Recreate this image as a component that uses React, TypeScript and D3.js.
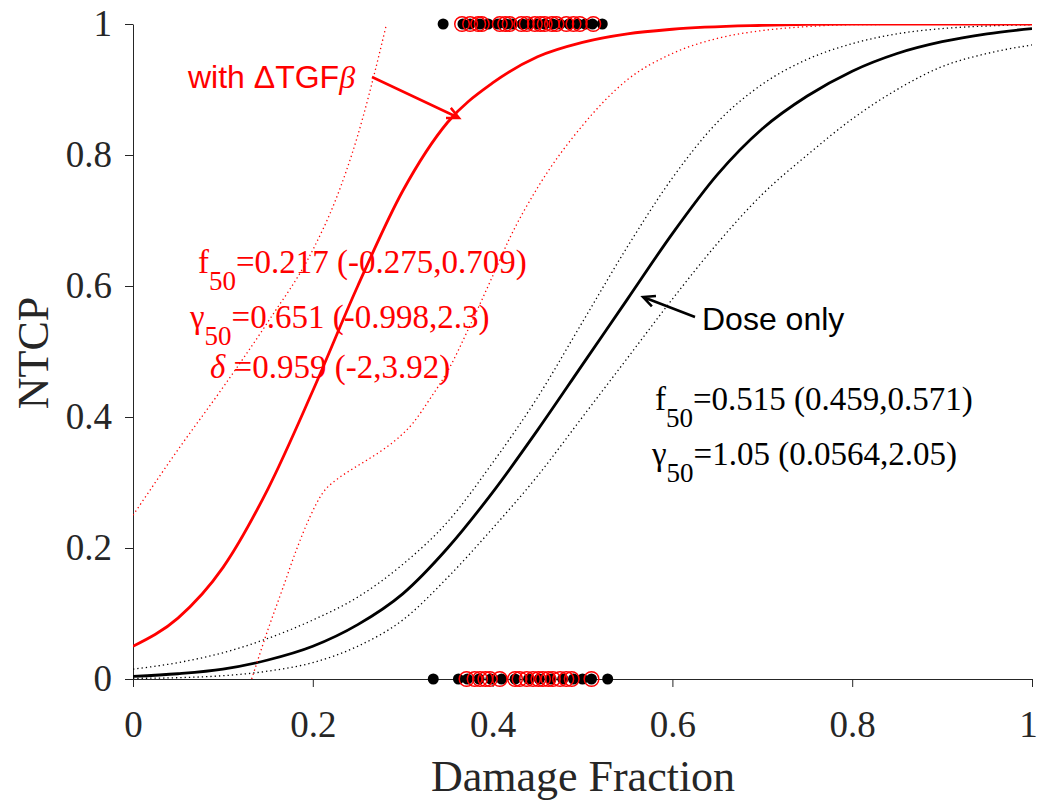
import React, { useEffect, useRef } from "react";
import * as d3 from "d3";

// tick values
const X_TICKS = [0, 0.2, 0.4, 0.6, 0.8, 1];
const Y_TICKS = [0, 0.2, 0.4, 0.6, 0.8, 1];

// dose only fit (black) with its confidence band
const DOSE_X = [0, 0.05, 0.1, 0.15, 0.2, 0.25, 0.3, 0.35, 0.4, 0.45, 0.5, 0.55, 0.6, 0.65, 0.7, 0.75, 0.8, 0.85, 0.9, 0.95, 1];
const DOSE_FIT = [0.004, 0.008, 0.015, 0.029, 0.05, 0.083, 0.13, 0.2, 0.285, 0.38, 0.48, 0.58, 0.68, 0.77, 0.84, 0.89, 0.928, 0.955, 0.973, 0.985, 0.993];
const DOSE_HI = [0.015, 0.025, 0.04, 0.062, 0.09, 0.125, 0.175, 0.24, 0.33, 0.43, 0.545, 0.66, 0.765, 0.85, 0.908, 0.946, 0.97, 0.985, 0.993, 0.997, 0.999];
const DOSE_LO = [0.001, 0.002, 0.005, 0.012, 0.025, 0.05, 0.09, 0.155, 0.23, 0.31, 0.4, 0.49, 0.58, 0.665, 0.74, 0.8, 0.855, 0.9, 0.935, 0.955, 0.968];

// with delta TGF-beta fit (red)
const TGF_X = [0, 0.05, 0.1, 0.15, 0.2, 0.25, 0.3, 0.35, 0.4, 0.45, 0.5, 0.55, 0.6, 0.7, 0.8, 1];
const TGF_FIT = [0.05, 0.093, 0.17, 0.29, 0.44, 0.6, 0.745, 0.85, 0.91, 0.95, 0.972, 0.985, 0.992, 0.998, 1, 1];
const TGF_HI_X = [0, 0.05, 0.1, 0.15, 0.2, 0.225, 0.25, 0.275, 0.282];
const TGF_HI = [0.25, 0.35, 0.445, 0.545, 0.655, 0.73, 0.83, 0.96, 1];
const TGF_LO_X = [0.132, 0.15, 0.167, 0.182, 0.197, 0.211, 0.227, 0.241, 0.26, 0.278, 0.295, 0.311, 0.33, 0.35, 0.375, 0.4, 0.419, 0.45, 0.5, 0.55, 0.6, 0.65, 0.7, 0.75, 0.8, 1];
const TGF_LO = [0, 0.075, 0.14, 0.198, 0.248, 0.284, 0.305, 0.318, 0.334, 0.35, 0.368, 0.39, 0.427, 0.47, 0.54, 0.615, 0.673, 0.75, 0.845, 0.915, 0.955, 0.978, 0.99, 0.996, 0.999, 1];

// observed damage fractions (outcome 1 on top, 0 on bottom)
const TOP_DOSE = [0.345, 0.367, 0.375, 0.386, 0.395, 0.406, 0.415, 0.422, 0.433, 0.44, 0.45, 0.458, 0.467, 0.475, 0.485, 0.495, 0.503, 0.511, 0.522];
const TOP_TGF = [0.366, 0.375, 0.384, 0.388, 0.408, 0.414, 0.419, 0.432, 0.438, 0.447, 0.453, 0.458, 0.466, 0.471, 0.482, 0.49, 0.497, 0.512];
const BOTTOM_DOSE = [0.334, 0.362, 0.372, 0.385, 0.398, 0.41, 0.425, 0.44, 0.452, 0.465, 0.478, 0.49, 0.5, 0.51, 0.528];
const BOTTOM_TGF = [0.371, 0.38, 0.386, 0.392, 0.397, 0.408, 0.425, 0.43, 0.438, 0.445, 0.451, 0.456, 0.462, 0.467, 0.475, 0.482, 0.488, 0.51];

const SERIF = "'Liberation Serif', 'Times New Roman', serif";
const SANS = "'Liberation Sans', Arial, sans-serif";
const AXIS = "#262626";

const App = () => {
  const ref = useRef<SVGSVGElement>(null);

  useEffect(() => {
    const svg = d3.select(ref.current);
    svg.selectAll("*").remove();

    const x = d3.scaleLinear().domain([0, 1]).range([133, 1032]);
    const y = d3.scaleLinear().domain([0, 1]).range([679, 24]);

    svg.append("defs").append("clipPath").attr("id", "plot")
      .append("rect").attr("x", 133).attr("y", 24).attr("width", 899).attr("height", 655);

    // axes
    const xAxis = svg.append("g")
      .attr("transform", "translate(0,679)")
      .call(d3.axisBottom(x).tickValues(X_TICKS).tickSize(8).tickSizeOuter(0).tickPadding(24).tickFormat(d3.format("")));
    const yAxis = svg.append("g")
      .attr("transform", "translate(133,0)")
      .call(d3.axisLeft(y).tickValues(Y_TICKS).tickSize(8).tickSizeOuter(0).tickPadding(13).tickFormat(d3.format("")));
    [xAxis, yAxis].forEach((g) => {
      g.select(".domain").attr("stroke", AXIS);
      g.selectAll(".tick line").attr("stroke", AXIS);
      g.selectAll(".tick text").attr("fill", AXIS).style("font-family", SERIF).style("font-size", "37px");
    });
    // keep the last x label inside the page
    xAxis.selectAll<SVGTextElement, number>(".tick text").filter((d) => d === 1).attr("dx", -4);

    svg.append("text")
      .attr("x", 583).attr("y", 791)
      .attr("text-anchor", "middle")
      .style("font-family", SERIF).style("font-size", "44px").attr("fill", AXIS)
      .text("Damage Fraction");
    svg.append("text")
      .attr("transform", "translate(48,353) rotate(-90)")
      .attr("text-anchor", "middle")
      .style("font-family", SERIF).style("font-size", "44px").attr("fill", AXIS)
      .text("NTCP");

    // curves
    const plot = svg.append("g").attr("clip-path", "url(#plot)");
    const drawCurve = (xs: number[], ys: number[], color: string, width: number, dash?: string) => {
      const pts = xs.map((d, i) => [d, ys[i]] as [number, number]);
      const line = d3.line<[number, number]>()
        .x((d) => x(d[0]))
        .y((d) => y(d[1]))
        .curve(d3.curveMonotoneX);
      const p = plot.append("path")
        .datum(pts)
        .attr("fill", "none")
        .attr("stroke", color)
        .attr("stroke-width", width)
        .attr("d", line);
      if (dash) p.attr("stroke-dasharray", dash);
    };

    drawCurve(DOSE_X, DOSE_HI, "#000", 1.3, "1.3,3");
    drawCurve(DOSE_X, DOSE_LO, "#000", 1.3, "1.3,3");
    drawCurve(DOSE_X, DOSE_FIT, "#000", 2.8);
    drawCurve(TGF_HI_X, TGF_HI, "#ff0000", 1.3, "1.3,3");
    drawCurve(TGF_LO_X, TGF_LO, "#ff0000", 1.3, "1.3,3");
    drawCurve(TGF_X, TGF_FIT, "#ff0000", 2.8);

    // observations
    const dots = svg.append("g");
    const addDots = (vals: number[], outcome: number) => {
      dots.selectAll(null).data(vals).enter().append("circle")
        .attr("cx", (d) => x(d)).attr("cy", y(outcome)).attr("r", 5.5)
        .attr("fill", "#000");
    };
    const addRings = (vals: number[], outcome: number) => {
      dots.selectAll(null).data(vals).enter().append("circle")
        .attr("cx", (d) => x(d)).attr("cy", y(outcome)).attr("r", 7.3)
        .attr("fill", "none").attr("stroke", "#ff0000").attr("stroke-width", 1.5);
    };
    addDots(TOP_DOSE, 1);
    addDots(BOTTOM_DOSE, 0);
    addRings(TOP_TGF, 1);
    addRings(BOTTOM_TGF, 0);

    // arrows
    const arrow = (x1: number, y1: number, x2: number, y2: number, color: string) => {
      const a = Math.atan2(y2 - y1, x2 - x1);
      const len = 13;
      const h1 = [x2 - len * Math.cos(a - 0.45), y2 - len * Math.sin(a - 0.45)];
      const h2 = [x2 - len * Math.cos(a + 0.45), y2 - len * Math.sin(a + 0.45)];
      svg.append("path")
        .attr("d", `M${x1},${y1}L${x2},${y2}M${h1[0]},${h1[1]}L${x2},${y2}L${h2[0]},${h2[1]}`)
        .attr("fill", "none").attr("stroke", color).attr("stroke-width", 2.5);
    };
    arrow(372, 77, 459, 118, "#ff0000");
    arrow(695, 317, 643, 297, "#000");

    svg.append("text")
      .attr("x", 188).attr("y", 88)
      .style("font-family", SANS).style("font-size", "32px").attr("fill", "#ff0000")
      .call((t) => {
        t.append("tspan").text("with  ΔTGF");
        t.append("tspan").style("font-family", SERIF).style("font-style", "italic").text("β");
      });

    svg.append("text")
      .attr("x", 702).attr("y", 330)
      .style("font-family", SANS).style("font-size", "32px").attr("fill", "#000")
      .text("Dose only");

    // parameter labels
    const param = (px: number, py: number, sym: string, italic: boolean, sub: string, rest: string, color: string) => {
      const t = svg.append("text")
        .attr("x", px).attr("y", py)
        .style("font-family", SERIF).style("font-size", "33px").attr("fill", color);
      t.append("tspan").style("font-style", italic ? "italic" : "normal").text(sym);
      if (sub) {
        t.append("tspan").attr("dy", 17).style("font-size", "27px").text(sub);
        t.append("tspan").attr("dy", -17).text(rest);
      } else {
        t.append("tspan").text(rest);
      }
    };
    param(198, 273, "f", false, "50", "=0.217 (-0.275,0.709)", "#ff0000");
    param(190, 328, "γ", false, "50", "=0.651 (-0.998,2.3)", "#ff0000");
    param(210, 378, "δ", true, "", " =0.959 (-2,3.92)", "#ff0000");
    param(655, 410, "f", false, "50", "=0.515 (0.459,0.571)", "#000");
    param(652, 465, "γ", false, "50", "=1.05 (0.0564,2.05)", "#000");
  }, []);

  return (
    <svg
      ref={ref}
      width={1040}
      height={801}
      style={{ position: "absolute", left: 0, top: 0, background: "#fff" }}
    />
  );
};

export default App;
